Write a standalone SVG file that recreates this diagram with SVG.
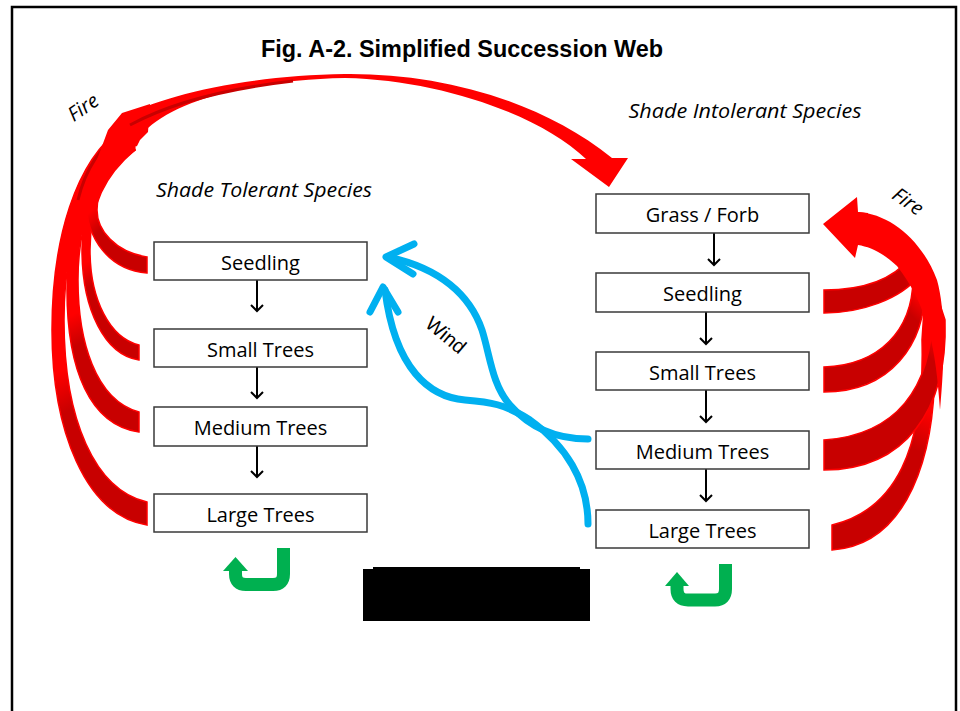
<svg xmlns="http://www.w3.org/2000/svg" width="960" height="711" viewBox="0 0 960 711">
<style>
.box{fill:#fff;stroke:#3a3a3a;stroke-width:1.5}
.lbl{font-family:"Open Sans","Noto Sans",sans-serif;font-size:20px;fill:#000;text-anchor:middle}
.ital{font-family:"Open Sans","Noto Sans",sans-serif;font-style:italic;font-size:20px;fill:#000;text-anchor:middle}
.fire{font-family:"Open Sans","Noto Sans",sans-serif;font-style:italic;font-size:20px;fill:#000;text-anchor:middle}
.blk{stroke:#000;stroke-width:2;fill:none}
.wind{stroke:#00B0F0;stroke-width:7;fill:none;stroke-linecap:round;stroke-linejoin:round}
.rib{stroke:#FF0000;stroke-width:1.5}
.bright{fill:#FF0000}
.green{stroke:#00B050;stroke-width:13;fill:none}
</style>
<defs>
<marker id="ah" markerWidth="14" markerHeight="14" refX="7" refY="7" orient="auto" markerUnits="userSpaceOnUse">
<path d="M1,1 L7,7 L1,13" fill="none" stroke="#000" stroke-width="2"/>
</marker>
<linearGradient id="gl1" gradientUnits="userSpaceOnUse" x1="147" y1="265" x2="92" y2="210"><stop offset="0" stop-color="#C80000"/><stop offset="0.75" stop-color="#C80000"/><stop offset="1" stop-color="#FF0000"/></linearGradient>
<linearGradient id="gl2" gradientUnits="userSpaceOnUse" x1="139" y1="352" x2="85" y2="250"><stop offset="0" stop-color="#C80000"/><stop offset="0.7" stop-color="#C80000"/><stop offset="0.9" stop-color="#FF0000"/></linearGradient>
<linearGradient id="gl3" gradientUnits="userSpaceOnUse" x1="139" y1="422" x2="72" y2="290"><stop offset="0" stop-color="#C80000"/><stop offset="0.65" stop-color="#C80000"/><stop offset="0.85" stop-color="#FF0000"/></linearGradient>
<linearGradient id="gl4" gradientUnits="userSpaceOnUse" x1="147" y1="513" x2="58" y2="340"><stop offset="0" stop-color="#C80000"/><stop offset="0.65" stop-color="#C80000"/><stop offset="0.85" stop-color="#FF0000"/></linearGradient>
<linearGradient id="gr1" gradientUnits="userSpaceOnUse" x1="824" y1="301" x2="914" y2="265"><stop offset="0" stop-color="#C80000"/><stop offset="0.85" stop-color="#C80000"/><stop offset="1" stop-color="#FF0000"/></linearGradient>
<linearGradient id="gr2" gradientUnits="userSpaceOnUse" x1="824" y1="380" x2="919" y2="285"><stop offset="0" stop-color="#C80000"/><stop offset="0.8" stop-color="#C80000"/><stop offset="0.95" stop-color="#FF0000"/></linearGradient>
<linearGradient id="gr3" gradientUnits="userSpaceOnUse" x1="824" y1="455" x2="940" y2="320"><stop offset="0" stop-color="#C80000"/><stop offset="0.8" stop-color="#C80000"/><stop offset="0.95" stop-color="#FF0000"/></linearGradient>
<linearGradient id="gr4" gradientUnits="userSpaceOnUse" x1="832" y1="537" x2="928" y2="350"><stop offset="0" stop-color="#C80000"/><stop offset="0.55" stop-color="#C80000"/><stop offset="0.75" stop-color="#FF0000"/></linearGradient>
</defs>

<rect width="960" height="711" fill="#fff"/>
<path d="M12,720 V7 H956 V720" fill="none" stroke="#000" stroke-width="2.5"/>

<text x="462" y="57" font-family="'Liberation Sans',Arial,sans-serif" font-weight="bold" font-size="23" text-anchor="middle" textLength="402" lengthAdjust="spacingAndGlyphs">Fig. A-2. Simplified Succession Web</text>

<g id="connectors">
  <!-- left fire ribbons -->
  <path class="rib" fill="url(#gl4)" d="M147,502 C95,490 64,420 64,320 C64,230 90,180 135,148 L123,127 C75,160 52,240 52,330 C52,430 85,515 147,525 Z"/>
  <path class="rib" fill="url(#gl3)" d="M139,412 C95,400 78,340 78,280 C78,220 95,180 135,150 L123,127 C80,165 67,220 67,290 C67,370 90,425 139,432 Z"/>
  <path class="rib" fill="url(#gl2)" d="M139,345 C110,338 90,300 90,250 C90,205 105,175 135,150 L123,127 C95,155 82,200 82,250 C82,310 105,355 139,360 Z"/>
  <path class="rib" fill="url(#gl1)" d="M147,257 C115,252 97,230 97,210 C97,185 110,165 135,150 L123,127 C100,145 86,170 86,200 C86,240 110,270 147,273 Z"/>
  <path d="M78,200 C85,170 100,146 125,128" fill="none" stroke="#C80000" stroke-width="3"/>
  <!-- left stacked arrowheads -->
  <polygon class="bright" points="122,113 150,104 148,132 140,140 137,146 128,150 120,163 105,178 95,165 108,130"/>
  <!-- top arc -->
  <path class="bright" d="M122,118 C160,95 250,75 345,74 C440,73 540,100 612,158 L628,158 L609,187 L571,159 L586,159 C540,115 440,80 345,78 C250,80 180,100 148,128 Z"/>
  <path d="M130,125 C165,106 215,90 293,81" fill="none" stroke="#C80000" stroke-width="3"/>

  <!-- right fire ribbons -->
  <path class="rib" fill="url(#gr4)" d="M832,525 C895,510 925,450 922,340 L926,280 L934,340 C940,460 905,545 832,550 Z"/>
  <path class="rib" fill="url(#gr3)" d="M824,440 C895,435 932,390 933,310 L928,268 L945,320 C948,410 905,470 824,470 Z"/>
  <path class="rib" fill="url(#gr2)" d="M824,367 C880,365 912,330 913,280 L925,285 C926,345 890,392 824,392 Z"/>
  <path class="rib" fill="url(#gr1)" d="M824,290 C855,290 890,283 910,258 L920,275 C900,300 860,313 824,313 Z"/>
  <path class="bright" d="M858,212 C890,214 922,240 937,280 C944,305 946,345 940,410 C936,350 928,305 897,266 C882,252 870,247 858,245 Z"/>
  <polygon class="bright" points="823,224 857,197 858,212 868,213 868,245 858,245 855,258"/>

  <!-- wind arrows -->
  <path class="wind" d="M588,439 C555,439 530,428 510,405 C492,385 490,355 482,330 C470,295 440,268 388,257"/>
  <path class="wind" d="M414,244 L386,257 L413,274"/>
  <path class="wind" d="M588,524 C588,480 565,445 530,420 C505,404 490,402 465,400 C430,397 395,370 385,290"/>
  <path class="wind" d="M370,312 L383,287 L398,312"/>

  <!-- succession arrows -->
  <line class="blk" x1="257" y1="280" x2="257" y2="311" marker-end="url(#ah)"/>
  <line class="blk" x1="257" y1="367" x2="257" y2="398" marker-end="url(#ah)"/>
  <line class="blk" x1="257" y1="446" x2="257" y2="477" marker-end="url(#ah)"/>
  <line class="blk" x1="714" y1="233" x2="714" y2="265" marker-end="url(#ah)"/>
  <line class="blk" x1="706" y1="312" x2="706" y2="344" marker-end="url(#ah)"/>
  <line class="blk" x1="706" y1="390" x2="706" y2="422" marker-end="url(#ah)"/>
  <line class="blk" x1="706" y1="469" x2="706" y2="501" marker-end="url(#ah)"/>

  <!-- green loops -->
  <path class="green" d="M283.5,548 V574 Q283.5,584.5 273,584.5 H246 Q235.5,584.5 235.5,574 V569"/>
  <polygon points="223,571 235.5,557 248,571" fill="#00B050"/>
  <path class="green" d="M725.5,564 V589 Q725.5,600 715,600 H688 Q677,600 677,589 V584"/>
  <polygon points="665,586 677,572 689,586" fill="#00B050"/>
</g>

<text class="fire" transform="translate(87,113) rotate(-35)">Fire</text>
<text class="fire" transform="translate(904,207) rotate(35)">Fire</text>
<text x="446" y="342" transform="rotate(40 446 335)" font-family="'Liberation Sans',Arial,sans-serif" font-size="20" text-anchor="middle">Wind</text>

<text class="ital" x="264" y="197" textLength="216" lengthAdjust="spacingAndGlyphs">Shade Tolerant Species</text>
<text class="ital" x="745" y="118" textLength="233" lengthAdjust="spacingAndGlyphs">Shade Intolerant Species</text>

<g id="t-seedling"><rect class="box" x="154" y="242" width="213" height="38"/><text class="lbl" x="260.5" y="270">Seedling</text></g>
<g id="t-small"><rect class="box" x="154" y="329" width="213" height="38"/><text class="lbl" x="260.5" y="357">Small Trees</text></g>
<g id="t-medium"><rect class="box" x="154" y="407" width="213" height="39"/><text class="lbl" x="260.5" y="435">Medium Trees</text></g>
<g id="t-large"><rect class="box" x="154" y="494" width="213" height="38"/><text class="lbl" x="260.5" y="522">Large Trees</text></g>

<g id="i-grass"><rect class="box" x="596" y="194" width="213" height="39"/><text class="lbl" x="702.5" y="222">Grass / Forb</text></g>
<g id="i-seedling"><rect class="box" x="596" y="273" width="213" height="39"/><text class="lbl" x="702.5" y="301">Seedling</text></g>
<g id="i-small"><rect class="box" x="596" y="352" width="213" height="38"/><text class="lbl" x="702.5" y="380">Small Trees</text></g>
<g id="i-medium"><rect class="box" x="596" y="431" width="213" height="38"/><text class="lbl" x="702.5" y="459">Medium Trees</text></g>
<g id="i-large"><rect class="box" x="596" y="510" width="213" height="38"/><text class="lbl" x="702.5" y="538">Large Trees</text></g>

<g id="redaction">
  <rect x="373" y="567" width="207" height="4" fill="#000"/>
  <rect x="363" y="569" width="227" height="52" fill="#000"/>
</g>
</svg>
